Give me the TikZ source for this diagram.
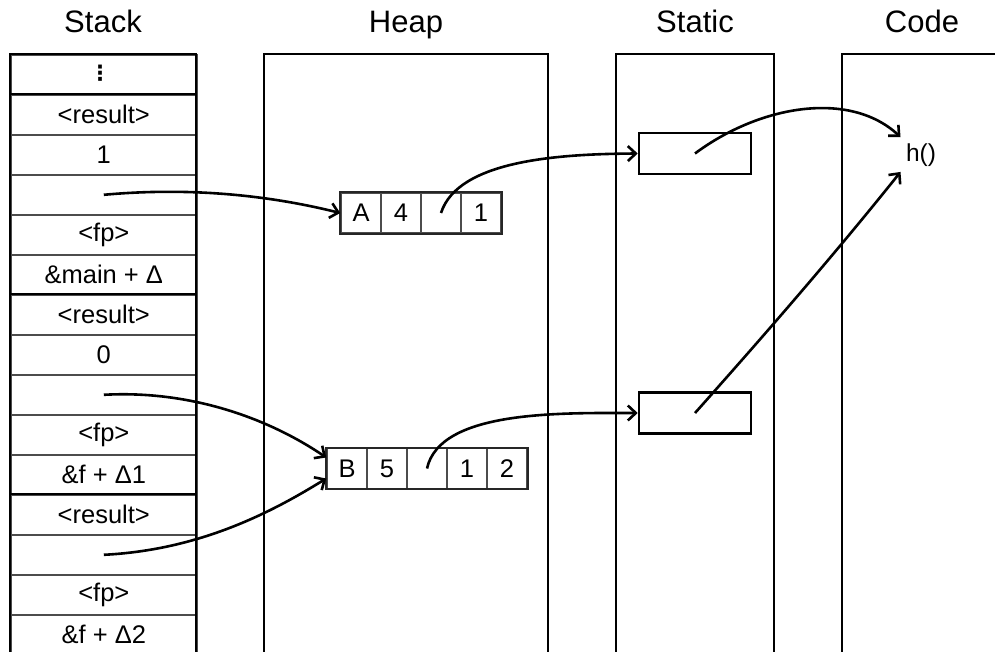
\documentclass[tikz,border=0pt]{standalone}
\usepackage{fontspec}
\setmainfont{Liberation Sans}
\newfontfamily\dvfont{DejaVu Sans}
\usetikzlibrary{arrows.meta,calc}
\begin{document}
\begin{tikzpicture}[x=1pt,y=-1pt,
  col/.style={line width=2.6pt,black},
  row/.style={draw=black!70,line width=1.6pt,minimum width=186pt,minimum height=40pt,inner sep=0pt,anchor=north west,font=\fontsize{25.5}{28}\selectfont},
  cell/.style={draw=black!70,line width=1.6pt,minimum width=40pt,minimum height=40pt,inner sep=0pt,font=\fontsize{25.5}{28}\selectfont},
  sbox/.style={draw,line width=2.6pt,minimum width=112pt,minimum height=41pt,inner sep=0pt},
  title/.style={font=\fontsize{31}{34}\selectfont,anchor=base},
  ptr/.style={line width=2.6pt,-{Straight Barb[length=8pt,width=15pt,line width=2.6pt]}}
]
\useasboundingbox (0,0) rectangle (995,652);
% titles
\node[title] (tstack) at (103,33) {Stack};
\node[title] (theap) at (406,33) {Heap};
\node[title] (tstatic) at (695,33) {Static};
\node[title] (tcode) at (922,33) {Code};
% stack rows
\node[row] (s0) at (10,54) {};
\node[font=\dvfont\bfseries\fontsize{21}{24}\selectfont] (dots) at (100,73) {⋮};
\node[row] (s1) at (10,94) {<result>};
\node[row] (s2) at (10,134) {1};
\node[row] (s3) at (10,174) {};
\node[row] (s4) at (10,214) {<fp>};
\node[row] (s5) at (10,254) {\&main + Δ};
\node[row] (s6) at (10,294) {<result>};
\node[row] (s7) at (10,334) {0};
\node[row] (s8) at (10,374) {};
\node[row] (s9) at (10,414) {<fp>};
\node[row] (s10) at (10,454) {\&f + Δ1};
\node[row] (s11) at (10,494) {<result>};
\node[row] (s12) at (10,534) {};
\node[row] (s13) at (10,574) {<fp>};
\node[row] (s14) at (10,614) {\&f + Δ2};
\draw[col] (10,54) rectangle (196,94);
\draw[col] (10,294) -- (196,294);
\draw[col] (10,494) -- (196,494);
% columns
\draw[col] (10,652) -- (10,54) -- (196,54) -- (196,652);
\draw[col] (264,652) -- (264,54) -- (548,54) -- (548,652);
\draw[col] (616,652) -- (616,54) -- (774,54) -- (774,652);
\draw[col] (842,652) -- (842,54) -- (995,54);
% heap records
\node[cell] (a1) at (361,213) {A};
\node[cell] (a2) at (401,213) {4};
\node[cell] (a3) at (441,213) {};
\node[cell] (a4) at (481,213) {1};
\draw[line width=2pt,black!85] (a1.north west) rectangle (a4.south east);
\node[cell] (b1) at (347,468.5) {B};
\node[cell] (b2) at (387,468.5) {5};
\node[cell] (b3) at (427,468.5) {};
\node[cell] (b4) at (467,468.5) {1};
\node[cell] (b5) at (507,468.5) {2};
\draw[line width=2pt,black!85] (b1.north west) rectangle (b5.south east);
% static boxes
\node[sbox] (st1) at (695,153.5) {};
\node[sbox] (st2) at (695,413) {};
% code
\node[font=\fontsize{24.5}{27}\selectfont] (h) at (921,155) {h()};
% pointers
\draw[ptr] (s3.center) .. controls (200,186) and (280,198) .. (a1.west);
\draw[ptr] (a3.center) .. controls (458,160) and (560,154) .. (st1.west);
\draw[ptr] (st1.center) .. controls (760,105) and (850,90) .. ($(h.north west)+(-2,-3)$);
\draw[ptr] (s8.center) .. controls (190,390) and (268,418) .. ($(b1.west)+(0,-11)$);
\draw[ptr] (s12.center) .. controls (200,550) and (272,512) .. ($(b1.west)+(0,10)$);
\draw[ptr] (b3.center) .. controls (440,410) and (560,413) .. (st2.west);
\draw[ptr] (st2.center) .. controls (760,340) and (830,260) .. ($(h.south west)+(-2,2)$);
\end{tikzpicture}
\end{document}
